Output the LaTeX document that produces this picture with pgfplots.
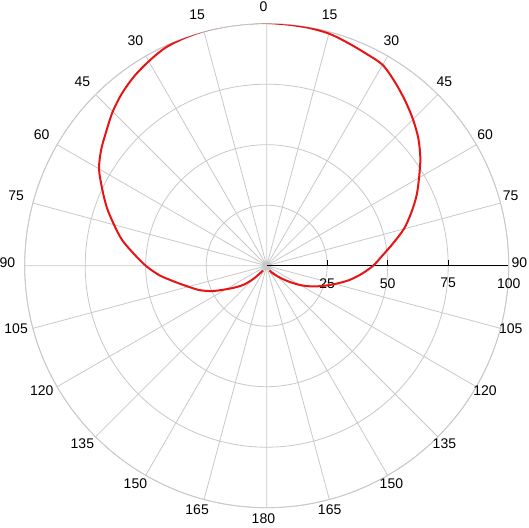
\documentclass[border=0pt]{standalone}
\usepackage{fontspec}
\setmainfont{Liberation Sans}
\usepackage{pgfplots}
\usepackage{pgfplotstable}
\usepgfplotslibrary{polar}
\pgfplotsset{compat=1.18}
\definecolor{gridgray}{RGB}{200,200,200}
\definecolor{curvered}{RGB}{232,20,20}

% theta: degrees clockwise from the top (0 = front); r: relative level
\pgfplotstableread{
theta r
-142 2.5
-140 3.5
-135 7.5
-130 12
-125 15.5
-120 19.5
-115 24.8
-110 29.5
-105 33.5
-100 38.5
-95 44.6
-90 50
-85 55
-80 60.6
-75 65.3
-70 70.3
-65 75
-60 80
-55 83.5
-50 86.5
-45 90
-40 93
-35 95.5
-30 97.5
-25 99.3
-20 100
-15 100.4
-10 100.5
-5 100.5
0 100.3
5 100
10 99.8
15 99.3
20 98
25 96.8
30 95.8
35 92.5
40 89
45 85.5
50 81.8
55 77.5
60 72.7
65 68.3
70 63.5
75 58.7
80 53
85 48
90 44
95 39.3
100 34.5
105 29.2
110 24.5
115 20.2
120 16
125 11.8
130 8.5
135 6
140 4.3
145 3.3
150 2.3
}\micdata

\begin{document}
\begin{tikzpicture}
\begin{polaraxis}[
  scale only axis, width=484pt, height=484pt,
  xmin=0, xmax=360, ymin=0, ymax=100,
  xtick={0,15,...,345},
  xticklabels={90,75,60,45,30,15,0,15,30,45,60,75,90,105,120,135,150,165,180,165,150,135,120,105},
  ytick={25,50,75,100},
  grid=major,
  major grid style={gridgray, line width=0.8pt},
  axis line style={gridgray, line width=0.8pt},
  xtick style={draw=none},
  ytick style={draw=none},
  ticklabel style={font=\fontsize{14}{16}\selectfont},
  xticklabel style={anchor=center, shift={(\tick:14pt)}, xshift=-3.3pt, yshift=3.3pt},
  yticklabel style={anchor=north, yshift=-9pt},
  /pgf/number format/assume math mode=true,
]
\coordinate (O) at (axis cs:0,0);
\addplot[black, line width=0.8pt, forget plot] coordinates {(0,0) (0,100)};
\draw[black, line width=0.8pt] (axis cs:0,25) -- ++(0,6pt);
\draw[black, line width=0.8pt] (axis cs:0,50) -- ++(0,6pt);
\draw[black, line width=0.8pt] (axis cs:0,75) -- ++(0,6pt);
\draw[black, line width=0.8pt] (axis cs:0,100) -- ++(0,6pt);
\addplot[curvered, line width=2pt, smooth] table[x expr=90-\thisrow{theta}, y=r] {\micdata};
\end{polaraxis}
\pgfresetboundingbox
\path[use as bounding box] ([shift={(-266.7pt,-261.3pt)}]O) rectangle ([shift={(262.3pt,265.7pt)}]O);
\end{tikzpicture}
\end{document}
